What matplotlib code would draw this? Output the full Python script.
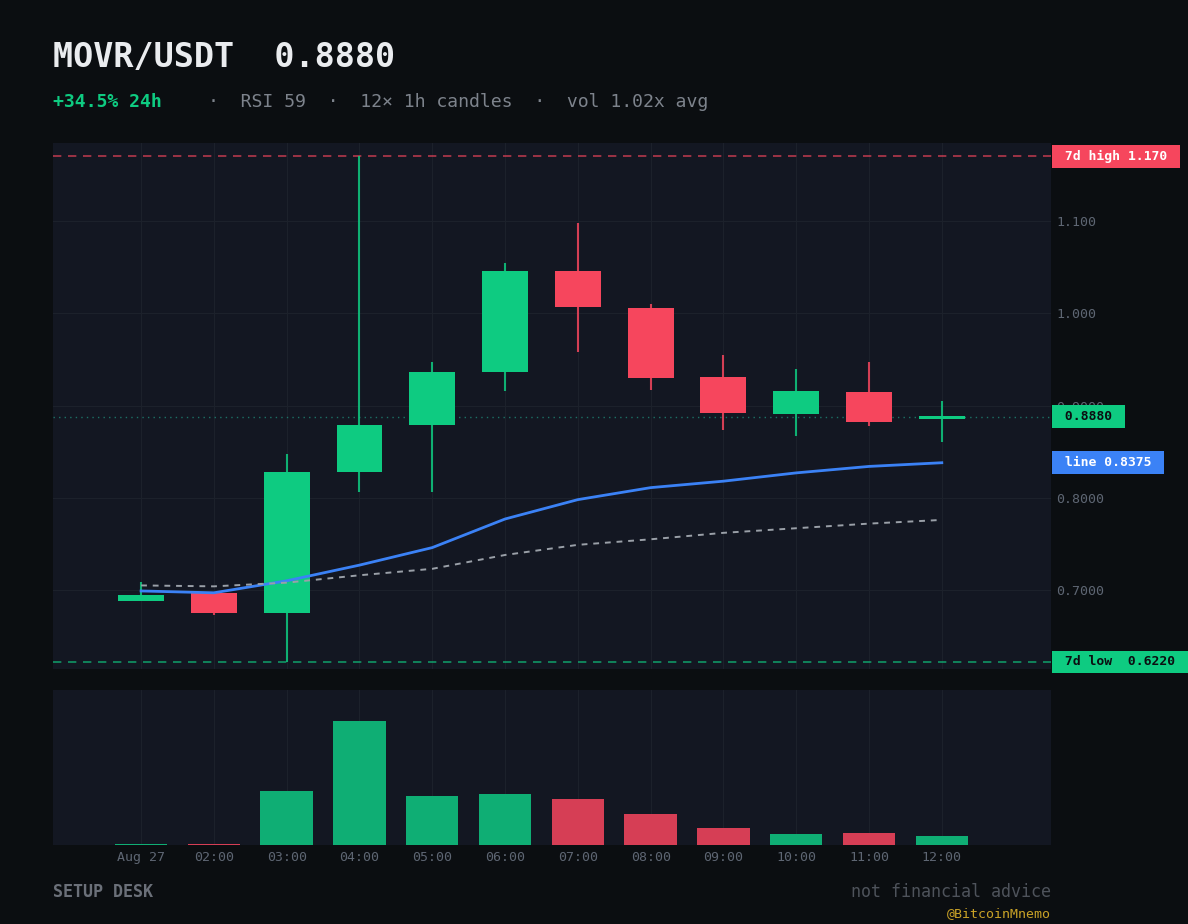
import matplotlib
matplotlib.use("Agg")
import matplotlib.pyplot as plt
import numpy as np

# candles (1h, MOVR/USDT)
hours = ["Aug 27", "02:00", "03:00", "04:00", "05:00", "06:00",
         "07:00", "08:00", "09:00", "10:00", "11:00", "12:00"]
opens = [0.688, 0.697, 0.675, 0.828, 0.879, 0.936, 1.046, 1.006, 0.931, 0.891, 0.915, 0.885]
highs = [0.709, 0.698, 0.848, 1.170, 0.947, 1.055, 1.098, 1.010, 0.955, 0.940, 0.947, 0.905]
lows = [0.688, 0.673, 0.622, 0.806, 0.806, 0.916, 0.958, 0.917, 0.873, 0.867, 0.878, 0.860]
closes = [0.695, 0.675, 0.828, 0.879, 0.936, 1.046, 1.007, 0.930, 0.892, 0.916, 0.8825, 0.888]
volumes = [8, 6, 540, 1240, 490, 510, 460, 310, 170, 110, 120, 90]
ma_fast = [0.699, 0.697, 0.710, 0.727, 0.746, 0.777, 0.798, 0.811, 0.818, 0.827, 0.834, 0.838]
ma_slow = [0.705, 0.704, 0.708, 0.716, 0.723, 0.738, 0.749, 0.755, 0.762, 0.767, 0.772, 0.776]
price_ticks = [0.7, 0.8, 0.9, 1.0, 1.1]
price_tick_labels = ["0.7000", "0.8000", "0.9000", "1.000", "1.100"]
high_7d = 1.170
low_7d = 0.622
last_price = 0.8880

BG = "#0b0e11"
PANEL = "#131722"
GRID = "#1c212b"
GREEN = "#0ecb81"
RED = "#f6465d"
BLUE = "#3b82f6"
MUTED = "#5e6673"
MONO = "DejaVu Sans Mono"

plt.rcParams["font.family"] = MONO

fig = plt.figure(figsize=(11.88, 9.24), dpi=100, facecolor=BG)
ax = fig.add_axes([53 / 1188, 1 - 669 / 924, 998 / 1188, 526 / 924])
axv = fig.add_axes([53 / 1188, 1 - 845 / 924, 998 / 1188, 155 / 924], sharex=ax)

x = np.arange(len(hours))
up = [c >= o for o, c in zip(opens, closes)]
colors = [GREEN if u else RED for u in up]

for a in (ax, axv):
    a.set_facecolor(PANEL)
    for s in a.spines.values():
        s.set_visible(False)
    a.tick_params(length=0, colors=MUTED, labelsize=9.5)
    a.set_xticks(x)
    a.grid(True, color=GRID, linewidth=0.8)
    a.set_axisbelow(True)

# price panel
ax.vlines(x, lows, highs, colors=colors, linewidth=1.5, alpha=0.85, zorder=2)
body_lo = [min(o, c) for o, c in zip(opens, closes)]
body_h = [max(abs(c - o), 0.004) for o, c in zip(opens, closes)]
ax.bar(x, body_h, bottom=body_lo, width=0.63, color=colors, zorder=3)
ax.plot(x, ma_fast, color=BLUE, linewidth=2, zorder=4)
ax.plot(x, ma_slow, color="#9aa0a8", linewidth=1.4, linestyle=(0, (3, 3)), zorder=4)

ax.axhline(high_7d, color=RED, alpha=0.7, linewidth=1.2, linestyle=(0, (5, 4)), zorder=1)
ax.axhline(low_7d, color=GREEN, alpha=0.7, linewidth=1.2, linestyle=(0, (5, 4)), zorder=1)
ax.axhline(last_price, color="#1f8a78", alpha=0.8, linewidth=1, linestyle=(0, (1, 3)), zorder=1)

ax.set_xlim(-1.21, 12.5)
ax.set_ylim(0.6144, 1.1846)
ax.yaxis.tick_right()
ax.set_yticks(price_ticks)
ax.set_yticklabels(price_tick_labels)
ax.tick_params(axis="y", pad=4)
ax.tick_params(axis="x", labelbottom=False)

tags = [
    (high_7d, " 7d high 1.170 ", RED, "white"),
    (last_price, " 0.8880 ", GREEN, BG),
    (ma_fast[-1], " line 0.8375 ", BLUE, "white"),
    (low_7d, " 7d low  0.6220 ", GREEN, BG),
]
for yv, txt, bg, fg in tags:
    ax.annotate(txt, xy=(1, yv), xycoords=("axes fraction", "data"),
                xytext=(4.3, 0), textcoords="offset points",
                ha="left", va="center", fontsize=9.45, fontweight="bold",
                color=fg, annotation_clip=False, zorder=10,
                bbox=dict(boxstyle="square,pad=0.38", fc=bg, ec="none"))

# volume panel
vol_colors = ["#0fae74" if u else "#d63e55" for u in up]
axv.bar(x, volumes, width=0.72, color=vol_colors, zorder=3)
axv.set_ylim(0, max(volumes) * 1.25)
axv.set_yticks([])
axv.set_xticklabels(hours)
axv.tick_params(axis="x", pad=4)

# header and footer
fig.text(53 / 1188, 1 - 58 / 924, "MOVR/USDT  0.8880", color="#eaecef",
         fontsize=24, fontweight="bold", va="center", ha="left")
fig.text(53 / 1188, 1 - 102 / 924, "+34.5% 24h", color=GREEN,
         fontsize=13.1, fontweight="bold", va="center", ha="left")
fig.text(208 / 1188, 1 - 102 / 924, "·  RSI 59  ·  12× 1h candles  ·  vol 1.02x avg",
         color="#7d838c", fontsize=13.1, va="center", ha="left")
fig.text(53 / 1188, 1 - 892 / 924, "SETUP DESK", color="#6b7079",
         fontsize=12, fontweight="bold", va="center", ha="left")
fig.text(1051 / 1188, 1 - 892 / 924, "not financial advice", color="#4e535b",
         fontsize=12, va="center", ha="right")
fig.text(1051 / 1188, 1 - 914 / 924, "@BitcoinMnemo", color="#c9a227",
         fontsize=9.5, va="center", ha="right")

fig.savefig("out.png", dpi=100, facecolor=BG)
